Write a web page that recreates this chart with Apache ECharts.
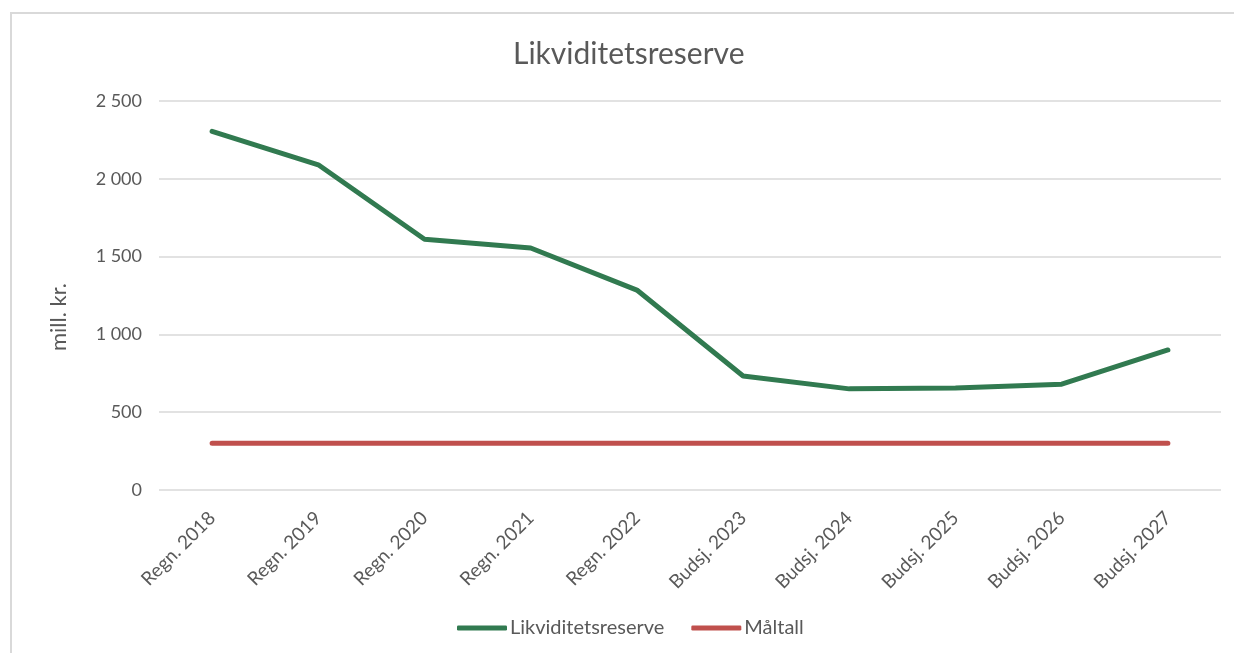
<!DOCTYPE html>
<html>
<head>
<meta charset="utf-8">
<script src="https://cdn.jsdelivr.net/npm/echarts@6/dist/echarts.min.js"></script>
<style>
  html, body { margin: 0; padding: 0; background: #fff; }
  #frame { position: absolute; left: 10px; top: 12px; width: 1240px; height: 660px; border-left: 2px solid #d9d9d9; border-top: 2px solid #d9d9d9; }
  #chart { position: absolute; left: 0; top: 0; width: 1234px; height: 653px; }
</style>
</head>
<body>
<div id="frame"></div>
<div id="chart"></div>
<script>
// data
const categories = ["Regn. 2018", "Regn. 2019", "Regn. 2020", "Regn. 2021", "Regn. 2022",
	"Budsj. 2023", "Budsj. 2024", "Budsj. 2025", "Budsj. 2026", "Budsj. 2027"];
const likviditetsreserve = [2305, 2090, 1612, 1555, 1285, 733, 650, 655, 680, 900];
const maltall = [300, 300, 300, 300, 300, 300, 300, 300, 300, 300];

const fontFamily = "Lato, 'Open Sans', sans-serif";
const textColor = "#595959";

const chart = echarts.init(document.getElementById("chart"));
chart.setOption({
	animation: false,
	title: {
		text: "Likviditetsreserve",
		left: 508,
		top: 34,
		textStyle: { fontFamily, fontSize: 30, fontWeight: "normal", color: textColor },
	},
	legend: {
		bottom: 10,
		left: 452,
		itemWidth: 50,
		itemHeight: 5,
		itemGap: 27,
		icon: "roundRect",
		textStyle: { fontFamily, fontSize: 20, color: textColor, padding: [0, 0, 0, -2] },
		data: ["Likviditetsreserve", "Måltall"],
	},
	grid: {
		left: 159,
		right: 13,
		top: 101,
		bottom: 163,
	},
	graphic: [{
		type: "text",
		left: 48,
		top: 283,
		rotation: Math.PI / 2,
		style: { text: "mill. kr.", font: "22px " + fontFamily, fill: textColor },
	}],
	xAxis: {
		type: "category",
		data: categories,
		axisLine: { show: false },
		axisTick: { show: false },
		axisLabel: {
			rotate: 45,
			interval: 0,
			margin: 25,
			fontFamily,
			fontSize: 19,
			color: textColor,
		},
	},
	yAxis: {
		type: "value",
		min: 0,
		max: 2500,
		interval: 500,
		axisLabel: {
			margin: 17,
			fontFamily,
			fontSize: 18,
			color: textColor,
			formatter: (v) => String(v).replace(/\B(?=(\d{3})+(?!\d))/g, " "),
		},
		splitLine: { lineStyle: { color: "#d9d9d9", width: 1.5 } },
	},
	series: [
		{
			name: "Likviditetsreserve",
			type: "line",
			data: likviditetsreserve,
			symbol: "none",
			lineStyle: { color: "#317a50", width: 5, cap: "round", join: "round" },
			itemStyle: { color: "#317a50" },
		},
		{
			name: "Måltall",
			type: "line",
			data: maltall,
			symbol: "none",
			lineStyle: { color: "#c0504d", width: 5, cap: "round" },
			itemStyle: { color: "#c0504d" },
		},
	],
});
</script>
</body>
</html>
